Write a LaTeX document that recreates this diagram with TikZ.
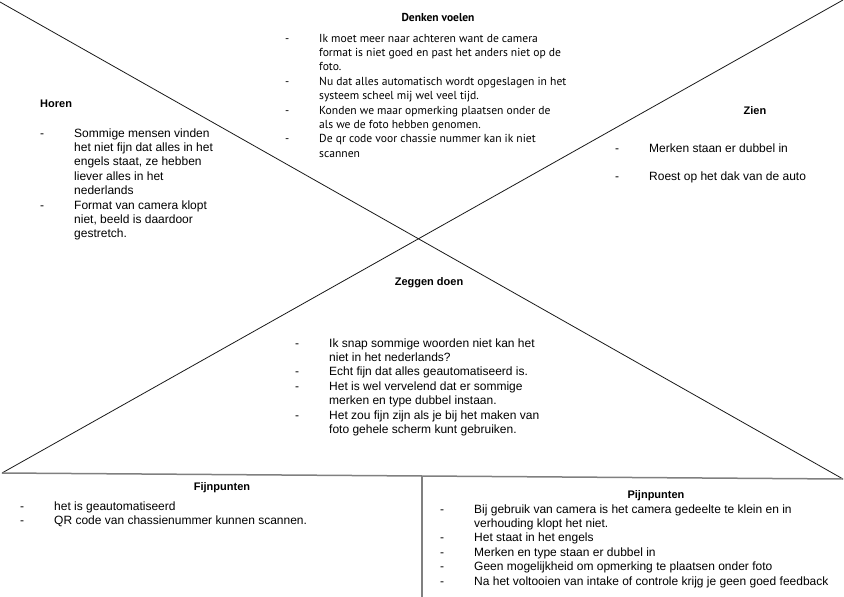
\documentclass[tikz,border=0pt]{standalone}
\usepackage{fontspec}
\setmainfont{Liberation Sans}
\newfontfamily\myriadlike{PT Sans}
\usetikzlibrary{positioning}

% dash column + text column for the bullet lists
\newcommand{\maplist}[1]{\begin{tabular}[t]{@{}p{34pt}@{}l@{}}#1\end{tabular}}

\begin{document}
\begin{tikzpicture}[
  x=1pt, y=-1pt,
  headnode/.style={anchor=base, inner sep=0pt, font=\fontsize{11}{13.2}\selectfont\bfseries},
  listnode/.style={anchor=base west, inner sep=0pt, font=\fontsize{12}{14.4}\selectfont},
  crossline/.style={line width=0.8pt, black!90},
  frameline/.style={line width=1.5pt, black!50}
]
\useasboundingbox (0,0) rectangle (844,597);

% Corner points of the map
\coordinate (TL) at (0,2);
\coordinate (TR) at (843,0);
\coordinate (BL) at (2,473);
\coordinate (BR) at (843,479);
\coordinate (BM) at (422,476);
\coordinate (BB) at (422,597);

% The cross and the frame below it
\draw[crossline] (TL) -- (BR);
\draw[crossline] (TR) -- (BL);
\draw[frameline] (BL) -- (BR);
\draw[frameline] (BM) -- (BB);

% Denken voelen (top)
\node[headnode, font=\myriadlike\fontsize{11.5}{13.8}\selectfont\bfseries] (denkenH) at (438,21) {Denken voelen};
\node[listnode, font=\myriadlike\fontsize{11.6}{14.4}\selectfont] (denken) at (285,42) {\maplist{
  - & Ik moet meer naar achteren want de camera\\
    & format is niet goed en past het anders niet op de\\
    & foto.\\
  - & Nu dat alles automatisch wordt opgeslagen in het\\
    & systeem scheel mij wel veel tijd.\\
  - & Konden we maar opmerking plaatsen onder de\\
    & als we de foto hebben genomen.\\
  - & De qr code voor chassie nummer kan ik niet\\
    & scannen}};

% Horen (left)
\node[headnode, anchor=base west] (horenH) at (40,107) {Horen};
\node[listnode] (horen) at (40,137) {\maplist{
  - & Sommige mensen vinden\\
    & het niet fijn dat alles in het\\
    & engels staat, ze hebben\\
    & liever alles in het\\
    & nederlands\\
  - & Format van camera klopt\\
    & niet, beeld is daardoor\\
    & gestretch.}};

% Zien (right)
\node[headnode] (zienH) at (755,114) {Zien};
\node[listnode] (zien) at (615,152) {\maplist{
  - & Merken staan er dubbel in\\
    & \\
  - & Roest op het dak van de auto}};

% Zeggen doen (bottom)
\node[headnode] (zeggenH) at (429,285) {Zeggen doen};
\node[listnode] (zeggen) at (295,347) {\maplist{
  - & Ik snap sommige woorden niet kan het\\
    & niet in het nederlands?\\
  - & Echt fijn dat alles geautomatiseerd is.\\
  - & Het is wel vervelend dat er sommige\\
    & merken en type dubbel instaan.\\
  - & Het zou fijn zijn als je bij het maken van\\
    & foto gehele scherm kunt gebruiken.}};

% Fijnpunten
\node[headnode] (fijnH) at (222,490) {Fijnpunten};
\node[listnode] (fijn) at (20,510) {\maplist{
  - & het is geautomatiseerd\\
  - & QR code van chassienummer kunnen scannen.}};

% Pijnpunten
\node[headnode] (pijnH) at (656,498) {Pijnpunten};
\node[listnode] (pijn) at (440,513) {\maplist{
  - & Bij gebruik van camera is het camera gedeelte te klein en in\\
    & verhouding klopt het niet.\\
  - & Het staat in het engels\\
  - & Merken en type staan er dubbel in\\
  - & Geen mogelijkheid om opmerking te plaatsen onder foto\\
  - & Na het voltooien van intake of controle krijg je geen goed feedback}};

\end{tikzpicture}
\end{document}
